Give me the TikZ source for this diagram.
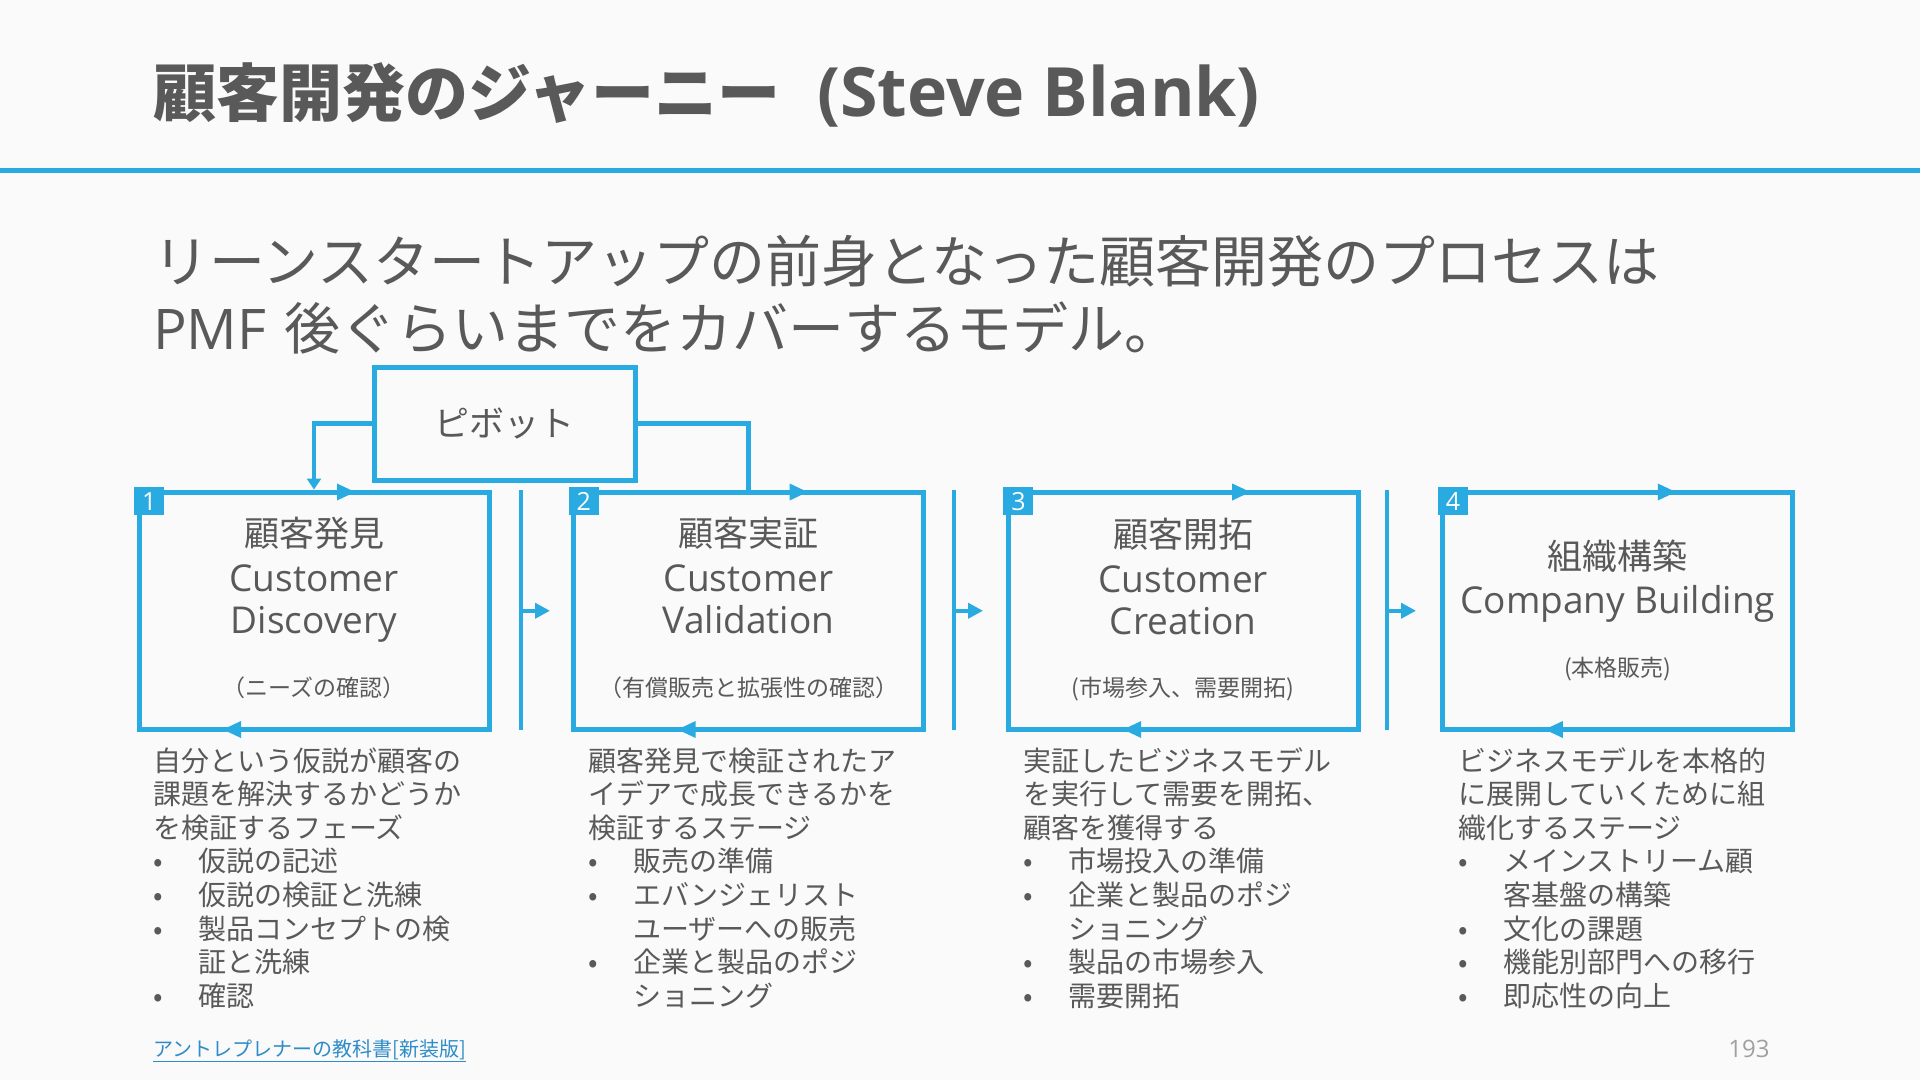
\documentclass[tikz,border=0pt]{standalone}
\usepackage{fontspec}
\setmainfont{Noto Sans CJK JP}
\newfontfamily\en{Open Sans}
\usetikzlibrary{arrows.meta}
\definecolor{bl}{RGB}{41,170,225}
\definecolor{tx}{RGB}{89,89,89}
\definecolor{bg}{RGB}{250,250,250}
\definecolor{lk}{RGB}{46,140,200}
\definecolor{pg}{RGB}{160,160,160}
\newcommand\fsz[1]{\fontsize{#1}{#1}\selectfont}
\newcommand\bu{\makebox[45pt][l]{•}}
\newcommand\ind{\hspace*{45pt}}
\newcommand\dl[3]{\node[desc] (d#1-#2) at ({153+435*(#1-1)},{771+33.6*(#2)}) {#3};}
\newcommand\rtri[2]{\fill[bl] ([xshift=#2pt,yshift=-2.5pt]#1.north) ++(-9,-8.5) -- ++(18,8.5) -- ++(-18,8.5) -- cycle;}
\newcommand\ltri[2]{\fill[bl] ([xshift=#2pt,yshift=2.5pt]#1.south) ++(-9,0) -- ++(18,-8.5) -- ++(0,17) -- cycle;}
\tikzset{
  box/.style={draw=bl, line width=5pt, minimum width=350pt, minimum height=237.5pt, inner sep=0pt},
  pivotbox/.style={draw=bl, line width=5pt, minimum width=261pt, minimum height=113pt, text=tx, font=\fsz{35}, inner sep=0pt},
  badge/.style={fill=bl, text=white, minimum width=30pt, minimum height=28pt, inner sep=0pt, anchor=north west, font=\en\fsz{25}},
  bt/.style={text=tx, anchor=base, inner sep=0pt},
  desc/.style={text=tx, anchor=base west, inner sep=0pt, font=\fsz{28}},
  conn/.style={draw=bl, line width=4.5pt},
  sepline/.style={draw=bl, line width=4pt},
  plain/.style={anchor=base west, inner sep=0pt, text=tx},
}
\begin{document}
\begin{tikzpicture}[x=1pt,y=-1pt]
\fill[bg] (0,0) rectangle (1920,1080);
\useasboundingbox (0,0) rectangle (1920,1080);

% title
\node[plain, font=\fsz{63}\bfseries] (ttl) at (153,116) {顧客開発のジャーニー};
\node[plain, font=\en\fsz{68}\bfseries] (ttl2) at (817,116) {(Steve Blank)};
\draw[bl, line width=5pt] (0,170.5) -- (1920,170.5);

% subtitle
\node[plain, font=\fsz{56}] (sub1) at (153,282) {リーンスタートアップの前身となった顧客開発のプロセスは};
\node[plain, font=\fsz{56}] (sub2) at (153,349) {{\en PMF}\hspace{6pt} 後ぐらいまでをカバーするモデル。};

% pivot
\node[pivotbox] (pv) at (504.5,423.5) {ピボット};

% boxes
\node[box] (b1) at (314,610.75) {};
\node[box] (b2) at (748.6,610.75) {};
\node[box] (b3) at (1183.2,610.75) {};
\node[box] (b4) at (1617.8,610.75) {};

\node[badge] (n1) at ([xshift=-2.5pt,yshift=2.5pt]b1.north west) {1};
\node[badge] (n2) at ([xshift=-2.5pt,yshift=2.5pt]b2.north west) {2};
\node[badge] (n3) at ([xshift=-2.5pt,yshift=2.5pt]b3.north west) {3};
\node[badge] (n4) at ([xshift=-2.5pt,yshift=2.5pt]b4.north west) {4};

\rtri{b1}{32}\rtri{b2}{50}\rtri{b3}{58}\rtri{b4}{49}
\ltri{b1}{-82}\ltri{b2}{-62}\ltri{b3}{-51}\ltri{b4}{-64}

% pivot connectors
\draw[conn, -{Triangle[length=11pt,width=14pt]}] (pv.west) -| (b1.north);
\draw[conn] (pv.east) -| (b2.north);

% separators
\coordinate (s1t) at (521,490); \coordinate (s1b) at (521,730);
\coordinate (s1m) at (521,610.75); \coordinate (s1e) at (550,610.75);
\coordinate (s2t) at (954,490); \coordinate (s2b) at (954,730);
\coordinate (s2m) at (954,610.75); \coordinate (s2e) at (983,610.75);
\coordinate (s3t) at (1387,490); \coordinate (s3b) at (1387,730);
\coordinate (s3m) at (1387,610.75); \coordinate (s3e) at (1416,610.75);
\draw[sepline] (s1t) -- (s1b);
\draw[sepline] (s2t) -- (s2b);
\draw[sepline] (s3t) -- (s3b);
\draw[sepline, -{Triangle[length=15pt,width=15pt]}] (s1m) -- (s1e);
\draw[sepline, -{Triangle[length=15pt,width=15pt]}] (s2m) -- (s2e);
\draw[sepline, -{Triangle[length=15pt,width=15pt]}] (s3m) -- (s3e);

% box texts
\node[bt, font=\fsz{35}] (b1a) at (314,546) {顧客発見};
\node[bt, font=\en\fsz{37}] (b1b) at (314,591) {Customer};
\node[bt, font=\en\fsz{37}] (b1c) at (314,633) {Discovery};
\node[bt, font=\fsz{23}] (b1d) at (314,696) {（ニーズの確認）};

\node[bt, font=\fsz{35}] (b2a) at (748.6,546) {顧客実証};
\node[bt, font=\en\fsz{37}] (b2b) at (748.6,591) {Customer};
\node[bt, font=\en\fsz{37}] (b2c) at (748.6,633) {Validation};
\node[bt, font=\fsz{23}] (b2d) at (748.6,696) {（有償販売と拡張性の確認）};

\node[bt, font=\fsz{35}] (b3a) at (1183.2,547) {顧客開拓};
\node[bt, font=\en\fsz{37}] (b3b) at (1183.2,592) {Customer};
\node[bt, font=\en\fsz{37}] (b3c) at (1183.2,634) {Creation};
\node[bt, font=\fsz{23}] (b3d) at (1183.2,696) {(市場参入、需要開拓)};

\node[bt, font=\fsz{35}] (b4a) at (1617.8,569) {組織構築};
\node[bt, font=\en\fsz{37}] (b4b) at (1617.8,613) {Company Building};
\node[bt, font=\fsz{23}] (b4d) at (1617.8,676) {(本格販売)};

% descriptions
\dl{1}{0}{自分という仮説が顧客の}
\dl{1}{1}{課題を解決するかどうか}
\dl{1}{2}{を検証するフェーズ}
\dl{1}{3}{\bu 仮説の記述}
\dl{1}{4}{\bu 仮説の検証と洗練}
\dl{1}{5}{\bu 製品コンセプトの検}
\dl{1}{6}{\ind 証と洗練}
\dl{1}{7}{\bu 確認}

\dl{2}{0}{顧客発見で検証されたア}
\dl{2}{1}{イデアで成長できるかを}
\dl{2}{2}{検証するステージ}
\dl{2}{3}{\bu 販売の準備}
\dl{2}{4}{\bu エバンジェリスト}
\dl{2}{5}{\ind ユーザーへの販売}
\dl{2}{6}{\bu 企業と製品のポジ}
\dl{2}{7}{\ind ショニング}

\dl{3}{0}{実証したビジネスモデル}
\dl{3}{1}{を実行して需要を開拓、}
\dl{3}{2}{顧客を獲得する}
\dl{3}{3}{\bu 市場投入の準備}
\dl{3}{4}{\bu 企業と製品のポジ}
\dl{3}{5}{\ind ショニング}
\dl{3}{6}{\bu 製品の市場参入}
\dl{3}{7}{\bu 需要開拓}

\dl{4}{0}{ビジネスモデルを本格的}
\dl{4}{1}{に展開していくために組}
\dl{4}{2}{織化するステージ}
\dl{4}{3}{\bu メインストリーム顧}
\dl{4}{4}{\ind 客基盤の構築}
\dl{4}{5}{\bu 文化の課題}
\dl{4}{6}{\bu 機能別部門への移行}
\dl{4}{7}{\bu 即応性の向上}

% footer
\node[anchor=base west, inner sep=0pt, text=lk, font=\fsz{20}] (src) at (153,1056) {\underline{アントレプレナーの教科書[新装版]}};
\node[anchor=base, inner sep=0pt, text=pg, font=\en\fsz{24}] (pgn) at (1749,1057) {193};
\end{tikzpicture}
\end{document}
